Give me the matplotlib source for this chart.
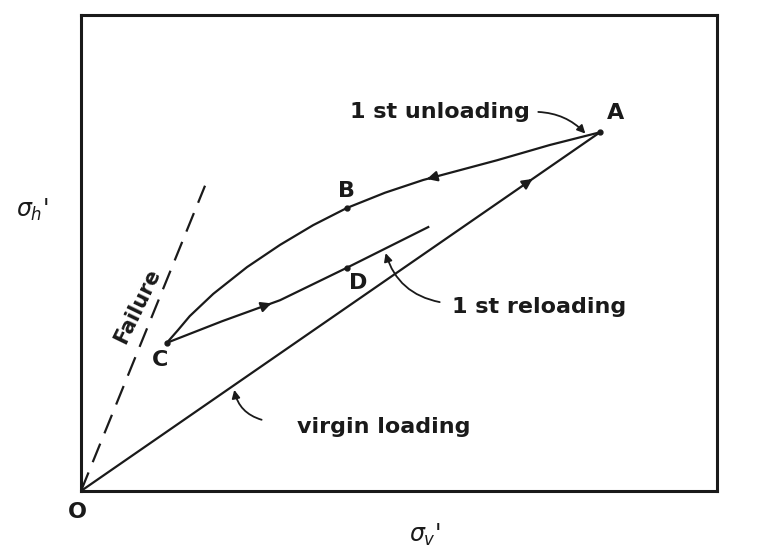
import matplotlib
matplotlib.use("Agg")
import matplotlib.pyplot as plt
import numpy as np
from matplotlib.patches import FancyArrowPatch

# Stress path points (sigma_v', sigma_h') in arbitrary units
point_a = (81.6, 56.4)
point_b = (41.8, 44.5)
point_c = (13.5, 23.3)
point_d = (41.8, 35.1)

# virgin loading: O -> A
virgin_x = [0.0, 81.6]
virgin_y = [0.0, 56.4]

# 1st unloading: A -> B -> C
unload_x = [81.6, 73.7, 65.4, 53.8, 47.8, 41.8, 36.5, 31.3, 26.1, 20.8, 17.1, 15.25, 13.5]
unload_y = [56.4, 54.4, 52.0, 48.9, 46.9, 44.5, 41.8, 38.7, 35.2, 31.0, 27.5, 25.3, 23.3]

# 1st reloading: C -> D -> beyond
reload_x = [13.5, 22.2, 31.3, 41.8, 54.6]
reload_y = [23.3, 26.7, 30.0, 35.1, 41.5]

# failure envelope (dashed)
failure_x = [0.0, 19.5]
failure_y = [0.0, 48.0]

fig = plt.figure(figsize=(7.62, 5.53), dpi=100)
ax = fig.add_axes([81 / 762, (553 - 491) / 553, 636 / 762, 476 / 553])
ax.set_xlim(0, 100)
ax.set_ylim(0, 476 / 6.36)
ax.set_xticks([])
ax.set_yticks([])
for s in ax.spines.values():
    s.set_linewidth(2.2)
    s.set_color("#1a1a1a")

ink = "#1a1a1a"
lw = 1.6

ax.plot(virgin_x, virgin_y, color=ink, lw=lw, solid_capstyle="round")
ax.plot(unload_x, unload_y, color=ink, lw=lw, solid_joinstyle="round")
ax.plot(reload_x, reload_y, color=ink, lw=lw, solid_joinstyle="round")
ax.plot(failure_x, failure_y, color=ink, lw=lw, dashes=(9, 5))

# point markers
for p in (point_a, point_b, point_c, point_d):
    ax.plot(*p, "o", color=ink, ms=3.5)


def mid_arrow(xs, ys, i, frac):
    """Arrowhead on segment i of a polyline at fraction frac."""
    x0, y0, x1, y1 = xs[i], ys[i], xs[i + 1], ys[i + 1]
    px, py = x0 + frac * (x1 - x0), y0 + frac * (y1 - y0)
    dx, dy = x1 - x0, y1 - y0
    n = np.hypot(dx, dy)
    tail = (px - 0.5 * dx / n, py - 0.5 * dy / n)
    ax.add_patch(FancyArrowPatch(tail, (px, py), arrowstyle="-|>",
                                 mutation_scale=15, color=ink, lw=lw,
                                 shrinkA=0, shrinkB=0))


mid_arrow(unload_x, unload_y, 2, 0.95)
mid_arrow(virgin_x, virgin_y, 0, 0.87)
mid_arrow(reload_x, reload_y, 1, 0.85)

font = dict(family="DejaVu Sans", color=ink, fontweight="bold")

ax.text(56.4, 59.6, "1 st unloading", fontsize=16, ha="center", va="center", **font)
ax.text(72.0, 28.9, "1 st reloading", fontsize=16, ha="center", va="center", **font)
ax.text(47.6, 10.1, "virgin loading", fontsize=16, ha="center", va="center", **font)
ax.text(8.8, 29.0, "Failure", fontsize=15, rotation=64, ha="center", va="center",
        rotation_mode="anchor", **font)

ax.text(84.0, 59.4, "A", fontsize=16, ha="center", va="center", **font)
ax.text(41.8, 47.2, "B", fontsize=16, ha="center", va="center", **font)
ax.text(12.4, 20.6, "C", fontsize=16, ha="center", va="center", **font)
ax.text(43.6, 32.7, "D", fontsize=16, ha="center", va="center", **font)
ax.text(-0.5, -3.3, "O", fontsize=16, ha="center", va="center", clip_on=False, **font)

ax.text(-7.7, 44.2, r"$\sigma_h$'", fontsize=17, ha="center", va="center", clip_on=False, color=ink)
ax.text(54.1, -6.9, r"$\sigma_v$'", fontsize=17, ha="center", va="center", clip_on=False, color=ink)

# leaders
ax.annotate("", xy=(79.3, 56.2), xytext=(71.9, 59.6),
            arrowprops=dict(arrowstyle="-|>", color=ink, lw=1.3, mutation_scale=12,
                            connectionstyle="arc3,rad=-0.2", shrinkA=0, shrinkB=0))
ax.annotate("", xy=(47.9, 37.4), xytext=(56.4, 29.7),
            arrowprops=dict(arrowstyle="-|>", color=ink, lw=1.3, mutation_scale=12,
                            connectionstyle="arc3,rad=-0.3", shrinkA=0, shrinkB=0))
ax.annotate("", xy=(24.1, 15.9), xytext=(28.4, 11.2),
            arrowprops=dict(arrowstyle="-|>", color=ink, lw=1.3, mutation_scale=12,
                            connectionstyle="arc3,rad=-0.3", shrinkA=0, shrinkB=0))

fig.savefig("out.png", dpi=100, facecolor="white")
